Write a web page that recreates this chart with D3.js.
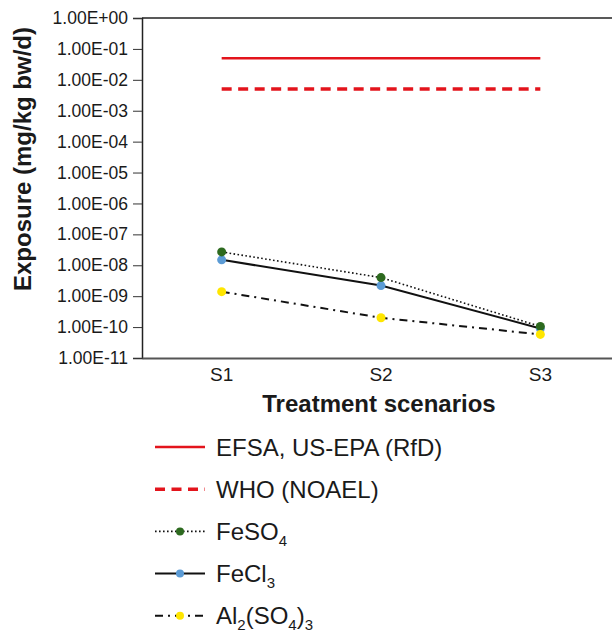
<!DOCTYPE html>
<html>
<head>
<meta charset="utf-8">
<script src="https://cdn.jsdelivr.net/npm/d3@7"></script>
<style>
  body { margin: 0; background: #fff; }
  svg { display: block; font-family: "Liberation Sans", Arial, sans-serif; }
</style>
</head>
<body>
<script>
// Categories on the x axis
var scenarios = ["S1", "S2", "S3"];

// Reference levels (mg/kg bw/d)
var efsaRfd = [0.05, 0.05, 0.05];
var whoNoael = [0.005, 0.005, 0.005];

// Exposure per coagulant
var feSO4 = [2.7e-8, 4.0e-9, 1.05e-10];
var feCl3 = [1.5e-8, 2.2e-9, 9.0e-11];
var al2SO43 = [1.4e-9, 2.0e-10, 5.8e-11];

// Tick values of the log axis
var yTicks = [1, 1e-1, 1e-2, 1e-3, 1e-4, 1e-5, 1e-6, 1e-7, 1e-8, 1e-9, 1e-10, 1e-11];

// Legend labels ("_x" marks a subscript)
var legendLabels = ["EFSA, US-EPA (RfD)", "WHO (NOAEL)", "FeSO_4", "FeCl_3", "Al_2(SO_4)_3"];

// Define margins
var margin = {top: 18, right: -8, bottom: 276, left: 142};
var outer_width = 612;
var outer_height = 634;
var svg_width = outer_width - margin.left - margin.right;
var svg_height = outer_height - margin.top - margin.bottom;

var root = d3.select("body")
	.append("svg")
	.attr("width", outer_width)
	.attr("height", outer_height);

var svg = root.append("g")
	.attr("transform", "translate(" + margin.left + "," + margin.top + ")");

var yScale = d3.scaleLog()
	.domain([1e-11, 1])
	.range([svg_height, 0]);

var xScale = d3.scaleBand()
	.domain(scenarios)
	.range([0, svg_width]);

function xc(i) { return xScale(scenarios[i]) + xScale.bandwidth() / 2; }

// series styles, drawn in this order
var series = [
	{values: efsaRfd, color: "#e3141c", width: 2.5, dash: null, marker: null},
	{values: whoNoael, color: "#e3141c", width: 3.5, dash: "10,6.5", marker: null},
	{values: feCl3, color: "#111", width: 2, dash: null, marker: "#5b9bd5"},
	{values: feSO4, color: "#111", width: 1.6, dash: "1.6,2.4", marker: "#2d6a1f"},
	{values: al2SO43, color: "#111", width: 2, dash: "8,5,2,5", marker: "#ffe600"}
];

// y axis
var yAxis = d3.axisLeft(yScale)
	.tickValues(yTicks)
	.tickSize(9)
	.tickPadding(5)
	.tickFormat(function(d) {
		var e = Math.round(Math.log10(d));
		var s = Math.abs(e) < 10 ? "0" + Math.abs(e) : "" + Math.abs(e);
		return "1.00E" + (e < 0 ? "-" : "+") + s;
	});

var gy = svg.append("g").attr("class", "axis").call(yAxis);
gy.select(".domain").attr("stroke", "#222").attr("stroke-width", 1.5);
gy.selectAll(".tick line").attr("stroke", "#333").attr("stroke-width", 1);
gy.selectAll(".tick text")
	.attr("font-size", 17.5)
	.attr("fill", "#1a1a1a")
	.attr("font-family", "Liberation Sans, Arial, sans-serif");

// top border
svg.append("line")
	.attr("x1", 0).attr("x2", svg_width)
	.attr("y1", 0).attr("y2", 0)
	.attr("stroke", "#222").attr("stroke-width", 1.5);

// x axis: labels only
var xAxis = d3.axisBottom(xScale).tickSize(0).tickPadding(10);
var gx = svg.append("g")
	.attr("transform", "translate(0," + svg_height + ")")
	.call(xAxis);
gx.select(".domain").attr("stroke", "#555").attr("stroke-width", 2);
gx.selectAll(".tick text")
	.attr("font-size", 19)
	.attr("fill", "#1a1a1a")
	.attr("font-family", "Liberation Sans, Arial, sans-serif");

// axis titles
root.append("text")
	.attr("transform", "translate(31," + (margin.top + svg_height / 2 - 29) + ") rotate(-90)")
	.attr("text-anchor", "middle")
	.attr("font-size", 24)
	.attr("font-weight", "bold")
	.attr("fill", "#1a1a1a")
	.text("Exposure (mg/kg bw/d)");

root.append("text")
	.attr("x", 379)
	.attr("y", 412)
	.attr("text-anchor", "middle")
	.attr("font-size", 24)
	.attr("font-weight", "bold")
	.attr("fill", "#1a1a1a")
	.text("Treatment scenarios");

// lines and markers
var line = d3.line()
	.x(function(d, i) { return xc(i); })
	.y(function(d) { return yScale(d); });

series.forEach(function(s) {
	svg.append("path")
		.datum(s.values)
		.attr("d", line)
		.attr("fill", "none")
		.attr("stroke", s.color)
		.attr("stroke-width", s.width)
		.attr("stroke-dasharray", s.dash);
});

series.forEach(function(s) {
	if (!s.marker) return;
	svg.selectAll(null)
		.data(s.values)
		.enter()
		.append("circle")
		.attr("cx", function(d, i) { return xc(i); })
		.attr("cy", function(d) { return yScale(d); })
		.attr("r", 4.5)
		.attr("fill", s.marker);
});

// legend
var legend = root.append("g").attr("transform", "translate(155,447)");
var order = [0, 1, 3, 2, 4];
order.forEach(function(si, row) {
	var s = series[si];
	var g = legend.append("g").attr("transform", "translate(0," + row * 42.2 + ")");
	g.append("line")
		.attr("x1", 0).attr("x2", 50)
		.attr("y1", 0).attr("y2", 0)
		.attr("stroke", s.color)
		.attr("stroke-width", s.width)
		.attr("stroke-dasharray", s.dash);
	if (s.marker) {
		g.append("circle").attr("cx", 25).attr("cy", 0).attr("r", 4).attr("fill", s.marker);
	}
	var t = g.append("text")
		.attr("x", 61)
		.attr("y", 8.5)
		.attr("font-size", 24)
		.attr("fill", "#1a1a1a");
	var shift = 0;
	legendLabels[row].split(/(_\d)/).forEach(function(part) {
		if (!part) return;
		if (part[0] === "_") {
			t.append("tspan").attr("font-size", 15).attr("dy", 6 - shift).text(part.slice(1));
			shift = 6;
		} else {
			t.append("tspan").attr("dy", -shift).text(part);
			shift = 0;
		}
	});
});
</script>
</body>
</html>
